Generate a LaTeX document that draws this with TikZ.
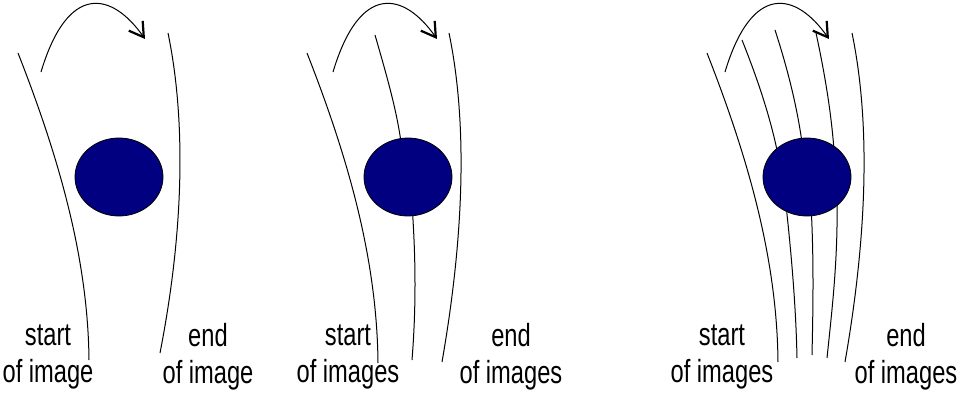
\documentclass[tikz,border=0pt]{standalone}
\usepackage{fontspec}
\setmainfont{Liberation Sans}[FakeStretch=0.74]
\usetikzlibrary{arrows.meta,shapes.geometric}
\definecolor{navyfill}{RGB}{0,0,128}
\tikzset{
  trace/.style={line width=1pt, black},
  hop/.style={line width=1pt, black, -{Straight Barb[length=14pt,width=17pt,line width=2.2pt]}},
  body/.style={ellipse, draw=black, line width=0.8pt, fill=navyfill, minimum width=88pt, minimum height=78pt, inner sep=0pt},
  lbl/.style={align=center, font=\fontsize{32}{37}\selectfont, inner sep=0pt}
}
\begin{document}
\begin{tikzpicture}[x=1pt,y=-1pt]
\useasboundingbox (0,0) rectangle (964,395);
% ---------- panel 1 ----------
\coordinate (a1s) at (18,53);  \coordinate (a1e) at (89,360);
\coordinate (b1s) at (168,33); \coordinate (b1e) at (160,353);
\coordinate (h1s) at (41,72);  \coordinate (h1e) at (145,39);
\draw[trace] (a1s) .. controls (60,160) and (88,260) .. (a1e);
\draw[trace] (b1s) .. controls (186,120) and (184,230) .. (b1e);
\draw[hop] (h1s) .. controls (68,-18) and (112,-8) .. (h1e);
\node[body] (e1) at (119,177) {};
\node[lbl] (s1) at (48,357) {start\\of image};
\node[lbl] (t1) at (208,357) {end\\of image};
% ---------- panel 2 ----------
\coordinate (a2s) at (307,53);  \coordinate (a2e) at (378,363);
\coordinate (b2s) at (449,33);  \coordinate (b2e) at (442,362);
\coordinate (m2s) at (375,35);  \coordinate (m2a) at (402,150);
\coordinate (m2b) at (412,205); \coordinate (m2e) at (412,360);
\coordinate (h2s) at (333,72);  \coordinate (h2e) at (437,39);
\draw[trace] (a2s) .. controls (349,160) and (377,260) .. (a2e);
\draw[trace] (b2s) .. controls (467,120) and (465,230) .. (b2e);
\draw[trace] (m2s) .. controls (388,80) and (398,115) .. (m2a);
\draw[trace] (m2b) .. controls (416,260) and (416,310) .. (m2e);
\draw[hop] (h2s) .. controls (360,-18) and (404,-8) .. (h2e);
\node[body] (e2) at (408,177) {};
\node[lbl] (s2) at (348,357) {start\\of images};
\node[lbl] (t2) at (511,357) {end\\of images};
% ---------- panel 3 ----------
\coordinate (a3s) at (707,53);  \coordinate (a3e) at (778,362);
\coordinate (b3s) at (852,33);  \coordinate (b3e) at (845,362);
\coordinate (h3s) at (725,72);  \coordinate (h3e) at (829,39);
\coordinate (p2s) at (742,40);  \coordinate (p2a) at (778,155);
\coordinate (p2b) at (786,205); \coordinate (p2e) at (797,358);
\coordinate (p3s) at (775,30);  \coordinate (p3a) at (803,150);
\coordinate (p3b) at (811,205); \coordinate (p3e) at (812,355);
\coordinate (p4s) at (816,33);  \coordinate (p4a) at (834,150);
\coordinate (p4b) at (837,200); \coordinate (p4e) at (827,358);
\draw[trace] (a3s) .. controls (749,160) and (777,260) .. (a3e);
\draw[trace] (b3s) .. controls (870,120) and (868,230) .. (b3e);
\draw[trace] (p2s) .. controls (756,75) and (770,115) .. (p2a);
\draw[trace] (p2b) .. controls (792,260) and (796,310) .. (p2e);
\draw[trace] (p3s) .. controls (788,70) and (798,110) .. (p3a);
\draw[trace] (p3b) .. controls (814,260) and (813,310) .. (p3e);
\draw[trace] (p4s) .. controls (824,70) and (831,110) .. (p4a);
\draw[trace] (p4b) .. controls (838,260) and (832,310) .. (p4e);
\draw[hop] (h3s) .. controls (752,-18) and (796,-8) .. (h3e);
\node[body] (e3) at (807,177) {};
\node[lbl] (s3) at (722,357) {start\\of images};
\node[lbl] (t3) at (906,357) {end\\of images};
\end{tikzpicture}
\end{document}
